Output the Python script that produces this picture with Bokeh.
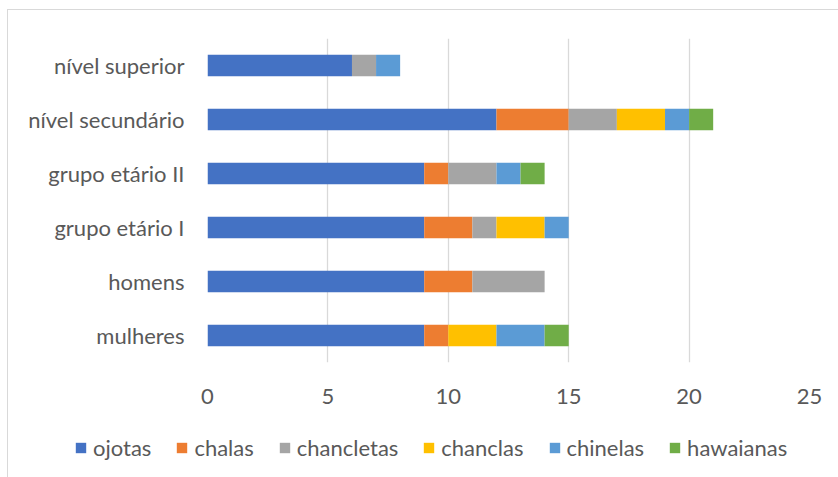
from bokeh.plotting import figure
from bokeh.layouts import column
from bokeh.models import ColumnDataSource, FactorRange, Legend, LegendItem, Range1d, FixedTicker
from bokeh.embed import file_html
from bokeh.resources import INLINE

categories = ["mulheres", "homens", "grupo etário I", "grupo etário II", "nível secundário", "nível superior"]
series = ["ojotas", "chalas", "chancletas", "chanclas", "chinelas", "hawaianas"]
ojotas     = [9, 9, 9, 9, 12, 6]
chalas     = [1, 2, 2, 1, 3, 0]
chancletas = [0, 3, 1, 2, 2, 1]
chanclas   = [2, 0, 2, 0, 2, 0]
chinelas   = [2, 0, 1, 1, 1, 1]
hawaianas  = [1, 0, 0, 1, 1, 0]
x_ticks = [0, 5, 10, 15, 20, 25]

colors = ["#4472C4", "#ED7D31", "#A5A5A5", "#FFC000", "#5B9BD5", "#70AD47"]
FONT = "Lato"
TXT = "#595959"
FS = "22px"

data = dict(cat=categories, ojotas=ojotas, chalas=chalas, chancletas=chancletas,
            chanclas=chanclas, chinelas=chinelas, hawaianas=hawaianas)
source = ColumnDataSource(data)

# main chart
p = figure(width=838, height=410, y_range=FactorRange(*categories, range_padding=0),
           x_range=Range1d(0, 25), output_backend="svg", toolbar_location=None,
           min_border_left=207, min_border_right=29, min_border_top=38, min_border_bottom=48)
p.frame_align = False

renderers = p.hbar_stack(series, y="cat", height=0.4, color=colors, source=source, line_color=None)

p.outline_line_color = None
p.background_fill_color = "white"
p.border_fill_alpha = 0

p.xaxis.ticker = FixedTicker(ticks=x_ticks)
p.xaxis.axis_line_color = None
p.xaxis.major_tick_line_color = None
p.xaxis.minor_tick_line_color = None
p.xaxis.major_label_text_font = FONT
p.xaxis.major_label_text_font_size = FS
p.xaxis.major_label_text_color = TXT
p.xaxis.major_label_standoff = 20

p.yaxis.axis_line_color = None
p.yaxis.major_tick_line_color = None
p.yaxis.minor_tick_line_color = None
p.yaxis.major_label_text_font = FONT
p.yaxis.major_label_text_font_size = FS
p.yaxis.major_label_text_color = TXT
p.yaxis.major_label_standoff = 17

p.xgrid.grid_line_color = "#d9d9d9"
p.xgrid.grid_line_width = 1.3
p.ygrid.grid_line_color = None

# legend strip (bars of this figure lie far outside its visible x range)
q = figure(width=838, height=67, x_range=Range1d(-100, -50), y_range=FactorRange(*categories),
           output_backend="svg", toolbar_location=None,
           min_border_left=0, min_border_right=0, min_border_top=0, min_border_bottom=0)
q.frame_align = False
q.axis.visible = False
q.grid.visible = False
q.outline_line_color = None
q.background_fill_alpha = 0
q.border_fill_alpha = 0
leg_r = q.hbar_stack(series, y="cat", height=0.4, color=colors, source=source, line_color=None)

items = [LegendItem(label=s, renderers=[r]) for s, r in zip(series, leg_r)]
legend = Legend(items=items, orientation="horizontal", location=(74, 16),
                label_text_font=FONT, label_text_font_size=FS, label_text_color=TXT,
                glyph_width=13, glyph_height=13, spacing=24, label_standoff=6,
                border_line_color=None, background_fill_alpha=0, margin=0, padding=0)
q.add_layout(legend)

layout = column(p, q, spacing=0, styles={
    "background-color": "white",
    "background-image": "linear-gradient(#d9d9d9, #d9d9d9), linear-gradient(#d9d9d9, #d9d9d9)",
    "background-size": "831px 1px, 1px 468px",
    "background-position": "7px 9px, 7px 9px",
    "background-repeat": "no-repeat, no-repeat",
})
open("out.html", "w").write(file_html(layout, INLINE))
